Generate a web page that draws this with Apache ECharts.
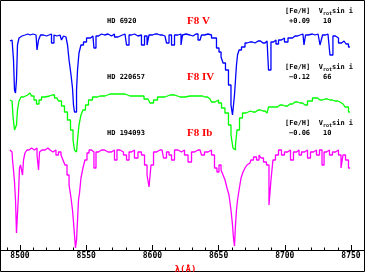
<!DOCTYPE html>
<html>
<head>
<meta charset="utf-8">
<script src="https://cdn.jsdelivr.net/npm/echarts@6/dist/echarts.min.js"></script>
<style>html,body{margin:0;padding:0;background:#fff}#c{width:365px;height:272px}</style>
</head>
<body>
<div id="c"></div>
<script>
// Star identifiers and parameters
const starNames = ['HD 6920', 'HD 220657', 'HD 194093'];
const spTypes = ['F8 V', 'F8 IV', 'F8 Ib'];
const fehValues = ['+0.09', '\u22120.12', '\u22120.06'];
const vsiniValues = ['10', '66', '10'];
const offsets = [1.15, 0.53, 0.0];   // vertical offsets added to normalized flux
const colors = ['#0000ff', '#00ff00', '#ff00ff'];
const xTicks = [8500, 8550, 8600, 8650, 8700, 8750];

// [wavelength (Å), normalized flux]
const specV = [[8492.4,0.94],[8494.0,0.95],[8494.7,0.95],[8495.5,0.75],[8496.2,0.45],[8497.0,0.42],[8497.7,0.55],[8498.5,0.90],[8500.0,0.97],[8501.5,0.99],[8503.8,1.00],[8506.0,1.01],[8507.6,1.00],[8509.8,1.01],[8512.1,1.00],[8513.6,0.85],[8514.4,0.95],[8516.6,1.00],[8518.9,0.99],[8521.1,1.00],[8522.7,1.01],[8524.9,0.92],[8526.4,1.00],[8527.9,0.99],[8530.2,1.00],[8532.5,0.95],[8533.2,0.99],[8534.7,0.98],[8535.5,0.97],[8536.3,0.90],[8537.8,0.75],[8539.3,0.60],[8540.0,0.47],[8540.8,0.30],[8541.5,0.23],[8542.3,0.23],[8543.1,0.45],[8543.8,0.65],[8545.3,0.82],[8546.8,0.90],[8549.1,0.93],[8551.4,0.97],[8555.1,0.99],[8556.6,0.87],[8558.2,0.99],[8560.4,1.01],[8562.7,1.00],[8565.0,1.01],[8568.0,0.99],[8570.2,1.01],[8572.5,0.98],[8575.5,1.00],[8579.3,1.01],[8581.6,0.90],[8583.1,1.00],[8585.3,1.01],[8587.6,0.99],[8590.6,1.00],[8592.9,0.90],[8595.2,0.99],[8596.7,0.90],[8598.2,1.00],[8602.0,1.01],[8605.7,1.00],[8609.5,0.99],[8611.8,0.92],[8613.3,1.00],[8615.6,0.90],[8617.8,1.00],[8620.8,1.01],[8622.4,0.90],[8623.1,1.00],[8625.4,1.01],[8628.4,1.00],[8630.7,0.99],[8632.9,1.01],[8636.0,0.95],[8638.2,1.00],[8640.5,1.01],[8643.5,1.00],[8645.8,0.97],[8647.3,0.97],[8649.5,0.87],[8651.1,0.83],[8652.6,0.78],[8654.1,0.72],[8656.3,0.65],[8658.6,0.50],[8660.1,0.30],[8660.9,0.20],[8661.6,0.20],[8662.4,0.40],[8663.1,0.55],[8663.9,0.70],[8664.7,0.80],[8666.2,0.85],[8668.4,0.88],[8671.5,0.92],[8673.7,0.93],[8677.5,0.92],[8679.8,0.94],[8683.5,0.92],[8686.6,0.94],[8688.8,0.65],[8690.3,0.93],[8692.6,0.95],[8694.1,0.91],[8696.4,0.95],[8698.6,0.97],[8700.9,0.93],[8703.9,0.97],[8707.7,0.99],[8711.5,1.00],[8713.7,1.01],[8715.3,0.90],[8716.0,1.00],[8719.0,1.01],[8722.8,1.00],[8725.1,1.01],[8728.1,0.90],[8728.9,1.00],[8732.6,1.01],[8735.6,0.80],[8737.1,0.99],[8739.4,0.97],[8741.7,0.92],[8744.0,0.94],[8745.5,0.93],[8747.0,0.91],[8749.2,0.88]];

const specIV = [[8492.4,0.97],[8494.0,0.96],[8495.5,0.80],[8496.2,0.67],[8497.0,0.67],[8497.7,0.72],[8498.5,0.87],[8500.0,0.96],[8501.5,1.00],[8503.8,1.02],[8507.6,1.04],[8509.8,1.01],[8511.3,0.97],[8513.6,0.93],[8515.1,0.97],[8517.4,1.00],[8520.4,1.01],[8524.2,1.02],[8527.9,0.99],[8530.2,0.96],[8532.5,0.91],[8534.7,0.85],[8537.0,0.77],[8539.3,0.67],[8540.8,0.57],[8541.5,0.47],[8542.3,0.45],[8543.1,0.47],[8543.8,0.57],[8545.3,0.72],[8546.8,0.82],[8548.3,0.87],[8550.6,0.92],[8552.9,0.97],[8556.6,1.00],[8560.4,1.01],[8568.0,1.03],[8575.5,1.03],[8583.1,1.01],[8590.6,1.01],[8596.7,0.98],[8599.7,0.94],[8602.0,0.97],[8605.7,1.00],[8613.3,1.02],[8620.8,1.00],[8628.4,1.01],[8636.0,1.01],[8639.7,1.00],[8643.5,0.98],[8645.8,0.95],[8648.8,0.97],[8651.1,0.94],[8653.3,0.89],[8656.3,0.84],[8658.6,0.72],[8660.1,0.62],[8661.6,0.49],[8662.4,0.47],[8663.1,0.52],[8664.7,0.67],[8666.9,0.79],[8669.2,0.84],[8672.2,0.86],[8676.0,0.85],[8679.8,0.87],[8683.5,0.86],[8686.6,0.84],[8688.8,0.90],[8692.6,0.90],[8696.4,0.92],[8700.1,0.91],[8703.9,0.93],[8707.7,0.95],[8711.5,0.94],[8715.3,0.92],[8719.0,0.96],[8722.8,0.99],[8726.6,0.97],[8730.4,0.98],[8734.1,0.97],[8737.9,0.96],[8741.7,0.95],[8744.0,0.93],[8747.0,0.90],[8749.2,0.85]];

const specIb = [[8492.4,1.00],[8494.0,0.98],[8494.7,0.90],[8495.5,0.80],[8496.2,0.68],[8497.0,0.50],[8497.7,0.17],[8498.5,0.15],[8499.2,0.55],[8500.0,0.82],[8500.8,0.85],[8501.5,0.80],[8502.3,0.75],[8503.0,0.90],[8504.5,0.97],[8506.0,1.00],[8507.6,1.02],[8509.8,1.00],[8512.1,1.02],[8513.6,0.95],[8514.4,0.80],[8515.1,0.98],[8516.6,1.00],[8518.9,1.00],[8521.1,1.02],[8522.7,1.00],[8524.9,0.98],[8526.4,1.00],[8527.9,0.95],[8530.2,0.98],[8531.7,0.95],[8533.2,0.90],[8534.7,0.85],[8536.3,0.75],[8537.8,0.65],[8539.3,0.52],[8540.0,0.40],[8540.8,0.28],[8541.5,0.15],[8542.3,0.02],[8543.1,0.10],[8543.8,0.30],[8544.6,0.50],[8545.3,0.57],[8546.8,0.72],[8548.3,0.82],[8549.8,0.90],[8551.4,0.97],[8552.9,1.00],[8555.1,0.98],[8556.6,0.82],[8558.2,0.98],[8560.4,1.00],[8562.7,1.00],[8565.0,0.98],[8568.0,0.98],[8570.2,1.00],[8572.5,0.90],[8574.0,1.00],[8577.0,0.98],[8579.3,0.95],[8581.6,0.90],[8583.1,0.98],[8585.3,1.00],[8587.6,0.92],[8590.6,0.98],[8592.9,0.95],[8595.2,0.85],[8596.7,0.75],[8598.2,0.63],[8599.7,0.85],[8602.0,0.98],[8604.2,1.00],[8607.3,1.00],[8609.5,0.92],[8611.8,0.98],[8613.3,0.95],[8615.6,0.90],[8617.8,1.00],[8620.8,0.98],[8623.1,1.00],[8625.4,0.95],[8628.4,0.88],[8630.7,0.98],[8632.9,1.00],[8636.0,1.00],[8638.2,0.95],[8640.5,0.98],[8643.5,1.00],[8645.8,0.95],[8648.0,0.82],[8649.5,0.78],[8651.1,0.85],[8652.6,0.80],[8654.1,0.75],[8655.6,0.70],[8657.1,0.62],[8658.6,0.55],[8660.1,0.40],[8660.9,0.25],[8661.6,0.12],[8662.4,0.04],[8663.1,0.25],[8663.9,0.40],[8664.7,0.50],[8666.2,0.60],[8667.7,0.72],[8669.2,0.78],[8670.7,0.82],[8672.2,0.85],[8673.7,0.87],[8675.2,0.90],[8677.5,0.93],[8679.8,0.90],[8681.3,0.95],[8682.8,0.92],[8685.0,0.88],[8687.3,0.85],[8688.8,0.45],[8690.3,0.70],[8691.8,0.90],[8694.1,0.95],[8696.4,1.00],[8698.6,0.95],[8700.9,0.98],[8703.2,1.00],[8705.4,0.90],[8707.7,0.98],[8710.0,1.00],[8711.5,0.95],[8713.7,0.98],[8716.0,1.00],[8718.3,0.92],[8720.5,0.98],[8722.8,1.00],[8725.1,0.95],[8727.3,1.00],[8728.9,0.85],[8730.4,0.98],[8732.6,1.00],[8734.9,0.95],[8737.1,0.98],[8739.4,1.00],[8741.7,0.95],[8743.2,0.82],[8744.7,0.95],[8747.0,0.90],[8749.2,0.82]];

const spectra = [specV, specIV, specIb];

const chart = echarts.init(document.getElementById('c'), null, {renderer: 'canvas'});

const series = spectra.map((s, i) => ({
  type: 'line',
  data: s.map(p => [p[0], +(p[1] + offsets[i]).toFixed(3)]),
  step: 'middle',
  symbol: 'none',
  lineStyle: {color: colors[i], width: 1.3},
  silent: true,
  animation: false
}));

const mono = 'DejaVu Sans Mono';
const graphics = [{
  type: 'rect', shape: {x: 0.5, y: 0.5, width: 364, height: 271},
  style: {fill: 'none', stroke: '#000', lineWidth: 1}, silent: true
}];
const rowY = [22, 78, 134];
for (let i = 0; i < 3; i++) {
  const y = rowY[i];
  graphics.push({type: 'text', x: 107, y: y - 4, style: {text: starNames[i], font: 'bold 7px ' + mono, fill: '#000'}});
  graphics.push({type: 'text', x: 187, y: y - 6, style: {text: spTypes[i], font: 'bold 11px "Liberation Serif"', fill: '#ff0000'}});
  graphics.push({type: 'text', x: 285, y: y - 15, style: {
    rich: {n: {font: 'bold 7px ' + mono, fill: '#000'}, s: {font: 'bold 5px ' + mono, fill: '#000', padding: [4, 0, 0, 0]}},
    text: '{n|[Fe/H]  V}{s|rot}{n|sin i}'
  }});
  graphics.push({type: 'text', x: 289, y: y - 4, style: {text: fehValues[i], font: 'bold 7px ' + mono, fill: '#000'}});
  graphics.push({type: 'text', x: 323, y: y - 4, style: {text: vsiniValues[i], font: 'bold 7px ' + mono, fill: '#000'}});
}

chart.setOption({
  animation: false,
  backgroundColor: '#fff',
  grid: {left: -46.2, right: -52.2, top: 0, bottom: 22, containLabel: false, outerBoundsMode: 'none'},
  xAxis: {
    type: 'value', min: 8450, max: 8800, interval: 50,
    name: '\u03bb(\u00c5)', nameLocation: 'middle', nameGap: 11,
    nameTextStyle: {color: '#ff0000', fontSize: 9, fontFamily: mono, fontWeight: 'bold'},
    axisLine: {show: true, lineStyle: {color: '#000', width: 1}},
    axisTick: {show: true, inside: true, length: 5, lineStyle: {color: '#000'}},
    minorTick: {show: true, splitNumber: 5, length: 2.5, lineStyle: {color: '#000'}},
    axisLabel: {
      margin: 2, color: '#000', fontSize: 8, fontFamily: mono, fontWeight: 'bold',
      formatter: v => (xTicks.indexOf(v) >= 0 ? String(v) : '')
    },
    splitLine: {show: false}
  },
  yAxis: {type: 'value', min: 0, max: 2.5, show: false, splitLine: {show: false}},
  series: series,
  graphic: graphics
});
</script>
</body>
</html>
